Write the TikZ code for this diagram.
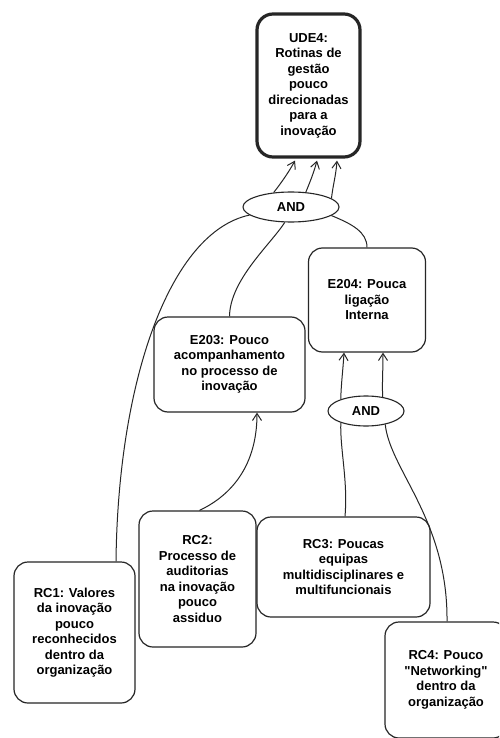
\documentclass[tikz,border=0pt]{standalone}
\usepackage{fontspec}
\setmainfont{Liberation Sans}[Ligatures=TeXOff]
\usetikzlibrary{shapes.geometric,arrows.meta}
\tikzset{
  txt/.style={font=\fontsize{13}{15.5}\selectfont\bfseries, text=black, align=center},
  box/.style={txt, draw=black!85, line width=1.2pt, rounded corners=14pt, inner sep=0pt},
  udebox/.style={box, line width=3.2pt, rounded corners=16pt},
  andnode/.style={txt, ellipse, draw=black!85, line width=1.1pt, inner sep=0pt},
  link/.style={draw=black!85, line width=1pt},
  arr/.style={link, -{Straight Barb[length=7pt,width=9pt]}}
}
\begin{document}
\begin{tikzpicture}[x=1pt,y=-1pt]
\clip (0,0) rectangle (499,738);
\fill[white] (0,0) rectangle (499,738);

\node[udebox, minimum width=103pt, minimum height=143pt] (UDE4) at (308.5,85.5)
  {UDE4:\\Rotinas de\\gestão\\pouco\\direcionadas\\para a\\inovação};
\node[andnode, minimum width=96pt, minimum height=30pt] (AND1) at (291,207) {AND};
\node[box, minimum width=117pt, minimum height=104pt] (E204) at (367,300)
  {E204: Pouca\\ligação\\Interna};
\node[box, minimum width=151pt, minimum height=95pt] (E203) at (229.5,364.5)
  {E203: Pouco\\acompanhamento\\no processo de\\inovação};
\node[andnode, minimum width=76pt, minimum height=30pt] (AND2) at (366,411) {AND};
\node[box, minimum width=121pt, minimum height=141pt] (RC1) at (74.5,632.5)
  {RC1: Valores\\da inovação\\pouco\\reconhecidos\\dentro da\\organização};
\node[box, minimum width=117pt, minimum height=136pt] (RC2) at (197.5,579)
  {RC2:\\Processo de\\auditorias\\na inovação\\pouco\\assiduo};
\node[box, minimum width=173pt, minimum height=100pt] (RC3) at (343.5,567)
  {RC3: Poucas\\equipas\\multidisciplinares e\\multifuncionais};
\node[box, minimum width=122pt, minimum height=116pt] (RC4) at (446,680)
  {RC4: Pouco\\"Networking"\\dentro da\\organização};

% AND1 -> UDE4
\draw[arr] (AND1.140) .. controls (282,182) and (290,170) .. ([xshift=-13.5pt,yshift=-2pt]UDE4.south);
\draw[arr] (AND1.45) .. controls (310,182) and (314,172) .. ([xshift=8.5pt,yshift=-2pt]UDE4.south);
\draw[arr] (AND1.12) .. controls (333,185) and (336,175) .. ([xshift=28.5pt,yshift=-2pt]UDE4.south);

% inputs of AND1
\draw[link] (AND1.191) .. controls (170,232) and (118,380) .. ([xshift=41.5pt]RC1.north);
\draw[link] (AND1.248) .. controls (270,245) and (230,280) .. (E203.north);
\draw[link] (AND1.348) .. controls (352,224) and (367,232) .. (E204.north);

% RC2 -> E203
\draw[arr] ([xshift=2pt]RC2.north) .. controls (232,495) and (257,465) .. ([xshift=27.5pt]E203.south);

% AND2 -> E204
\draw[arr] (AND2.155) .. controls (341,385) and (343,370) .. ([xshift=-23pt]E204.south);
\draw[arr] (AND2.40) .. controls (382,385) and (383,370) .. ([xshift=16pt]E204.south);

% inputs of AND2
\draw[link] (AND2.205) .. controls (340,450) and (348,480) .. ([xshift=1.5pt]RC3.north);
\draw[link] (AND2.325) .. controls (390,470) and (448,520) .. ([xshift=1pt]RC4.north);
\end{tikzpicture}
\end{document}
